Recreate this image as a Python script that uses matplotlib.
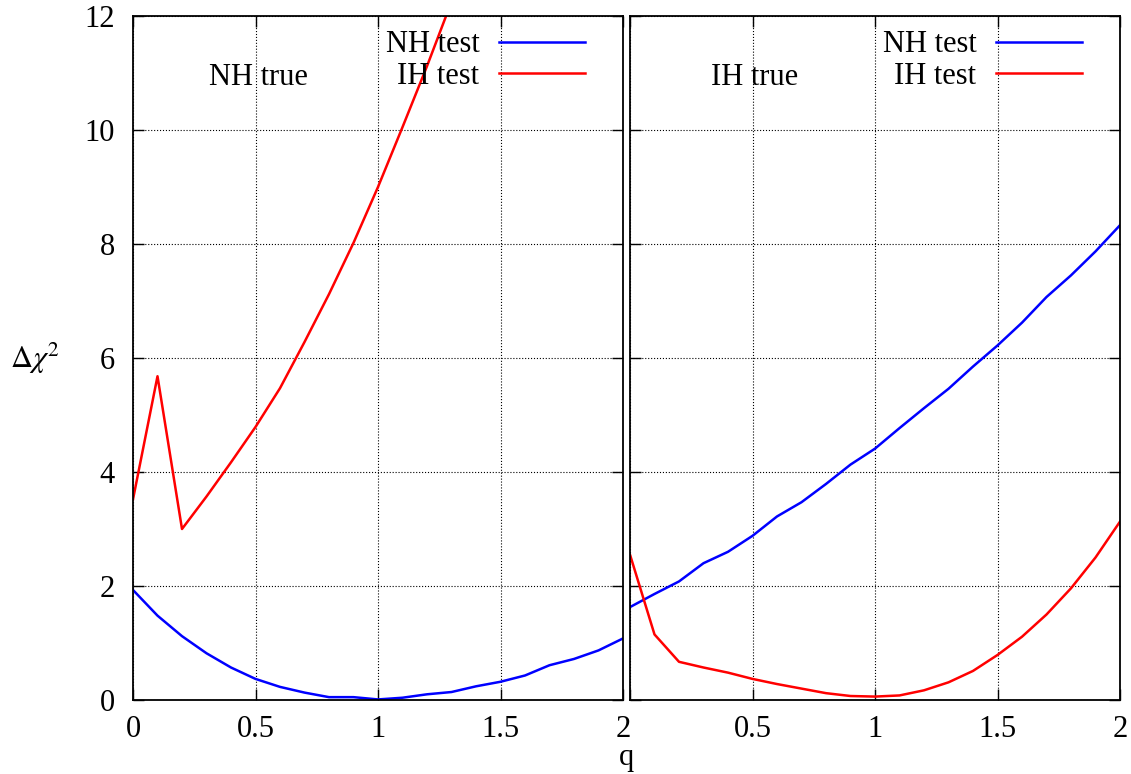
import matplotlib
matplotlib.use("Agg")
import matplotlib.pyplot as plt

plt.rcParams["font.family"] = ["Liberation Serif", "DejaVu Serif"]
plt.rcParams["mathtext.fontset"] = "stix"
plt.rcParams["font.size"] = 22

# q grid (both panels)
q = [0.0, 0.1, 0.2, 0.3, 0.4, 0.5, 0.6, 0.7, 0.8, 0.9, 1.0,
     1.1, 1.2, 1.3, 1.4, 1.5, 1.6, 1.7, 1.8, 1.9, 2.0]

# NH true
nh_true_nh_test = [1.93, 1.48, 1.12, 0.82, 0.57, 0.37, 0.23, 0.13, 0.05, 0.05, 0.01,
                   0.04, 0.10, 0.14, 0.24, 0.32, 0.43, 0.61, 0.72, 0.87, 1.08]
q_nh_true_ih = [0.0, 0.1, 0.2, 0.3, 0.4, 0.5, 0.6, 0.7, 0.8, 0.9, 1.0, 1.1, 1.2, 1.3]
nh_true_ih_test = [3.52, 5.68, 3.0, 3.57, 4.17, 4.79, 5.47, 6.28, 7.12, 8.02, 9.0,
                   10.05, 11.12, 12.25]

# IH true
ih_true_nh_test = [1.63, 1.86, 2.08, 2.40, 2.60, 2.88, 3.22, 3.47, 3.79, 4.13, 4.41,
                   4.77, 5.12, 5.46, 5.85, 6.22, 6.62, 7.07, 7.45, 7.87, 8.33]
ih_true_ih_test = [2.55, 1.15, 0.67, 0.57, 0.48, 0.37, 0.28, 0.20, 0.12, 0.07, 0.06,
                   0.08, 0.17, 0.31, 0.51, 0.79, 1.11, 1.50, 1.96, 2.50, 3.13]

x_ticks = [0, 0.5, 1, 1.5, 2]
y_ticks = [0, 2, 4, 6, 8, 10, 12]

W, H = 1131, 774
fig = plt.figure(figsize=(W / 100, H / 100), dpi=100)
ax1 = fig.add_axes([133 / W, 74 / H, 490 / W, 684 / H])
ax2 = fig.add_axes([630 / W, 74 / H, 490 / W, 684 / H])

panels = [
    (ax1, "NH true", q, nh_true_nh_test, q_nh_true_ih, nh_true_ih_test,
     ["0", "0.5", "1", "1.5", "2"]),
    (ax2, "IH true", q, ih_true_nh_test, q, ih_true_ih_test,
     ["", "0.5", "1", "1.5", "2"]),
]

for ax, title, qb, blue, qr, red, xlabels in panels:
    ax.plot(qb, blue, color="#0000ff", lw=1.8, label="NH test")
    ax.plot(qr, red, color="#ff0000", lw=1.8, label="IH test")
    ax.set_xlim(0, 2)
    ax.set_ylim(0, 12)
    ax.set_xticks(x_ticks)
    ax.set_xticklabels(xlabels)
    ax.set_yticks(y_ticks)
    ax.grid(True, color="black", linestyle=":", linewidth=0.8)
    ax.tick_params(direction="in", length=8, width=1, top=True, right=True)
    ax.tick_params(axis="x", pad=11)
    ax.tick_params(axis="y", pad=13)
    for s in ax.spines.values():
        s.set_linewidth(1.3)
    ax.text(0.255, 0.91, title, transform=ax.transAxes, ha="center", va="center")
    ax.legend(loc="upper right", bbox_to_anchor=(0.922, 0.979), frameon=False,
              markerfirst=False, handlelength=2.8, handletextpad=0.65,
              labelspacing=0.07, borderpad=0, borderaxespad=0)

ax2.set_yticklabels([])
ax1.set_ylabel(r"$\Delta\chi^2$", rotation=0, ha="center", va="center")
ax1.yaxis.set_label_coords(-0.2, 0.5)
fig.text(626 / W, 0.011, "q", ha="center", va="baseline")

fig.savefig("out.png", dpi=100)
